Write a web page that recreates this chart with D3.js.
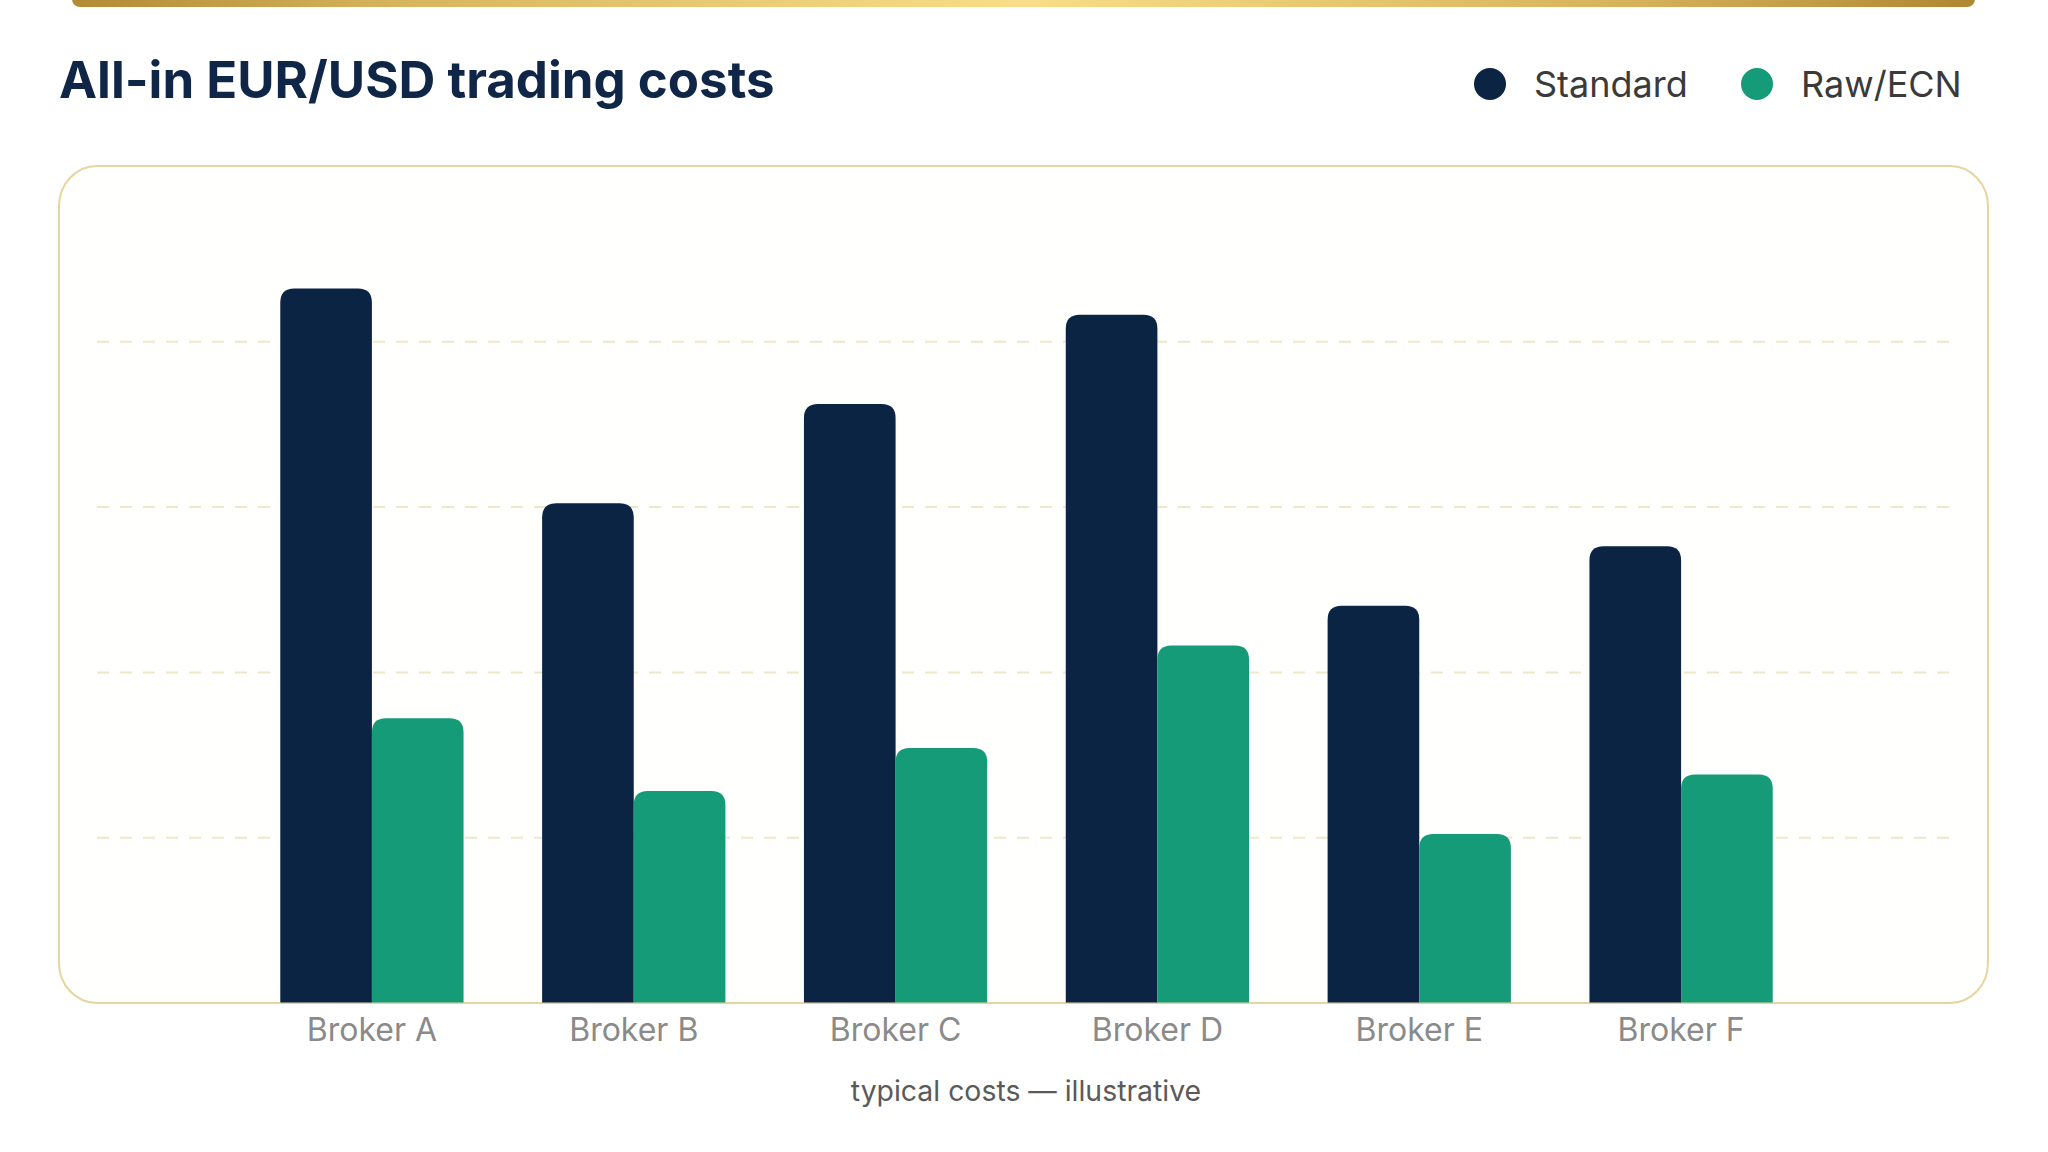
<!DOCTYPE html>
<html>
<head>
<meta charset="utf-8">
<script src="https://cdn.jsdelivr.net/npm/d3@7"></script>
<style>
  body { margin: 0; background: #ffffff; }
  svg { display: block; }
</style>
</head>
<body>
<script>
// values (spread cost, no unit shown)
var brokers = ["Broker A", "Broker B", "Broker C", "Broker D", "Broker E", "Broker F"];
var standard = [2.16, 1.51, 1.81, 2.08, 1.20, 1.38];
var rawEcn = [0.86, 0.64, 0.77, 1.08, 0.51, 0.69];
var seriesNames = ["Standard", "Raw/ECN"];
var gridValues = [0.5, 1.0, 1.5, 2.0];

let allColor = ["#0c2444", "#169b78"];

function main() {
  var width = 2048, height = 1152;
  var svg = d3.select("body").append("svg")
    .attr("width", width)
    .attr("height", height);

  var defs = svg.append("defs");
  var grad = defs.append("linearGradient").attr("id", "gold")
    .attr("x1", "0%").attr("x2", "100%");
  [["0%", "#b38a35"], ["18%", "#d8b65f"], ["50%", "#f8de88"], ["82%", "#d6b25a"], ["100%", "#b08733"]]
    .forEach(function (s) {
      grad.append("stop").attr("offset", s[0]).attr("stop-color", s[1]);
    });

  // gold strip at the very top
  svg.append("rect")
    .attr("x", 72).attr("y", -10)
    .attr("width", 1903).attr("height", 17)
    .attr("rx", 8)
    .attr("fill", "url(#gold)");

  // title
  svg.append("text")
    .attr("x", 59).attr("y", 98)
    .attr("font-family", "Inter, sans-serif")
    .attr("font-weight", 700)
    .attr("font-size", 51)
    .attr("fill", "#0f2646")
    .text("All-in EUR/USD trading costs");

  // legend
  var legendX = [1490, 1757];
  var legend = svg.selectAll(".legend")
    .data(seriesNames)
    .enter().append("g")
    .attr("class", "legend")
    .attr("transform", function (d, i) { return "translate(" + legendX[i] + ",84)"; });
  legend.append("circle")
    .attr("r", 16)
    .attr("fill", function (d, i) { return allColor[i]; });
  legend.append("text")
    .attr("x", 44).attr("y", 13)
    .attr("font-family", "Inter, sans-serif")
    .attr("font-size", 36)
    .attr("fill", "#3a3a3a")
    .text(function (d) { return d; });

  // panel
  svg.append("rect")
    .attr("x", 59).attr("y", 166)
    .attr("width", 1929).attr("height", 837)
    .attr("rx", 38).attr("ry", 40)
    .attr("fill", "#fffffd")
    .attr("stroke", "#e6d5a0")
    .attr("stroke-width", 2);

  var x0 = d3.scaleBand()
    .domain(brokers)
    .range([241, 1812])
    .paddingInner(0.3)
    .paddingOuter(0.15);
  var x1 = d3.scaleBand()
    .domain(seriesNames)
    .range([0, x0.bandwidth()]);
  var y = d3.scaleLinear()
    .domain([0, 2.5])
    .range([1002.5, 176]);

  // dashed gridlines
  var grid = svg.append("g")
    .attr("transform", "translate(97,0)")
    .call(d3.axisLeft(y).tickValues(gridValues).tickSize(-1856).tickFormat(""));
  grid.select(".domain").remove();
  grid.selectAll("line")
    .attr("stroke", "#efe7cc")
    .attr("stroke-width", 2)
    .attr("stroke-dasharray", "12 11");

  function topRounded(x, yTop, w, h, r) {
    r = Math.min(r, w / 2, h);
    return "M" + x + "," + (yTop + h) +
      "V" + (yTop + r) +
      "Q" + x + "," + yTop + " " + (x + r) + "," + yTop +
      "H" + (x + w - r) +
      "Q" + (x + w) + "," + yTop + " " + (x + w) + "," + (yTop + r) +
      "V" + (yTop + h) + "Z";
  }

  var rows = brokers.map(function (b, i) {
    return { broker: b, values: [standard[i], rawEcn[i]] };
  });

  var groups = svg.selectAll(".group")
    .data(rows)
    .enter().append("g")
    .attr("class", "group")
    .attr("transform", function (d) { return "translate(" + x0(d.broker) + ",0)"; });

  groups.selectAll("path")
    .data(function (d) { return d.values.map(function (v, i) { return { name: seriesNames[i], value: v, i: i }; }); })
    .enter().append("path")
    .attr("fill", function (d) { return allColor[d.i]; })
    .attr("d", function (d) {
      return topRounded(x1(d.name), y(d.value), x1.bandwidth(), y(0) - y(d.value), 14);
    });

  // category labels
  var xAxis = svg.append("g")
    .attr("transform", "translate(0,1003)")
    .call(d3.axisBottom(x0).tickSize(0).tickPadding(0));
  xAxis.select(".domain").remove();
  xAxis.selectAll("text")
    .attr("dy", null)
    .attr("y", 38)
    .attr("font-family", "Inter, sans-serif")
    .attr("font-size", 32)
    .attr("fill", "#8a8a8a");

  // footnote
  svg.append("text")
    .attr("x", 1026).attr("y", 1101)
    .attr("text-anchor", "middle")
    .attr("font-family", "Inter, sans-serif")
    .attr("font-size", 28.4)
    .attr("fill", "#5a5a5a")
    .text("typical costs — illustrative");
}

main();
</script>
</body>
</html>
